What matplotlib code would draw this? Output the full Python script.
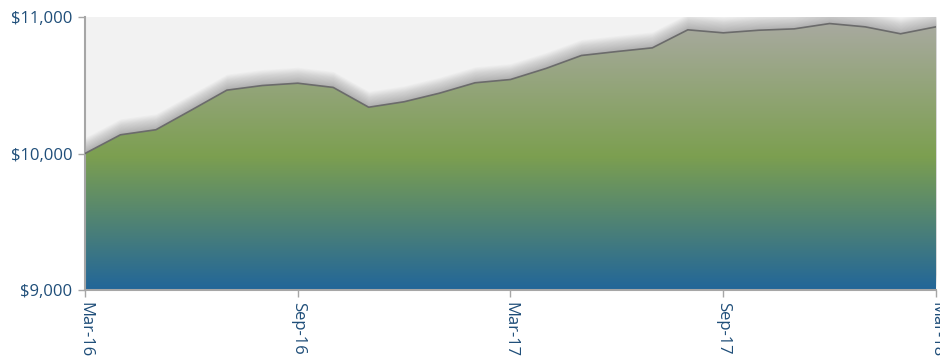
import matplotlib
matplotlib.use("Agg")
import matplotlib.pyplot as plt
import matplotlib.transforms as mtransforms
import numpy as np
from matplotlib.colors import LinearSegmentedColormap

# Monthly portfolio value, Mar-16 .. Mar-18
months = ["Mar-16", "Apr-16", "May-16", "Jun-16", "Jul-16", "Aug-16", "Sep-16",
          "Oct-16", "Nov-16", "Dec-16", "Jan-17", "Feb-17", "Mar-17", "Apr-17",
          "May-17", "Jun-17", "Jul-17", "Aug-17", "Sep-17", "Oct-17", "Nov-17",
          "Dec-17", "Jan-18", "Feb-18", "Mar-18"]
values = [10000, 10137, 10174, 10318, 10464, 10498, 10515, 10484, 10339, 10379,
          10442, 10518, 10542, 10623, 10718, 10747, 10774, 10906, 10884, 10903,
          10913, 10952, 10928, 10877, 10928]
tick_labels = ["Mar-16", "Sep-16", "Mar-17", "Sep-17", "Mar-18"]
y_ticks = [9000, 10000, 11000]

label_color = "#1f4e79"
plt.rcParams["font.family"] = ["Open Sans", "DejaVu Sans"]

fig = plt.figure(figsize=(9.4, 3.57), dpi=100)
ax = fig.add_axes([85 / 940, 67 / 357, 851 / 940, 273 / 357])
ax.set_facecolor("#f2f2f2")

x = np.arange(len(values))
ax.set_xlim(0, len(values) - 1)
ax.set_ylim(9000, 11000)

# soft shadow: faint copies of the area nudged upward a few pixels each
for dy in np.linspace(1, 16, 20):
    off = mtransforms.offset_copy(ax.transData, fig=fig, x=0, y=dy * 0.72,
                                  units="points")
    ax.fill_between(x, 9000, values, color="#555555", alpha=0.022, lw=0,
                    transform=off, zorder=1)

# gradient fill under the curve: blue -> green -> grey
cmap = LinearSegmentedColormap.from_list(
    "fill", [(0.0, "#226699"), (0.49, "#7c9f50"), (1.0, "#aaaaa3")])
grad = np.linspace(0, 1, 256).reshape(-1, 1)
img = ax.imshow(grad, cmap=cmap, aspect="auto", origin="lower",
                extent=(0, len(values) - 1, 9000, 11000), zorder=2)
poly = ax.fill_between(x, 9000, values, facecolor="none", edgecolor="none")
img.set_clip_path(poly.get_paths()[0], ax.transData)

ax.plot(x, values, color="#6b6b6b", lw=1.2, zorder=3)

ax.set_yticks(y_ticks)
ax.set_yticklabels([f"${v:,}" for v in y_ticks], fontsize=12)
ax.set_xticks([months.index(m) for m in tick_labels])
ax.set_xticklabels(tick_labels, rotation=270, fontsize=12)

for side in ["top", "right"]:
    ax.spines[side].set_visible(False)
for side in ["left", "bottom"]:
    ax.spines[side].set_color("#a6a6a6")
    ax.spines[side].set_linewidth(1.5)
ax.tick_params(axis="both", colors="#a6a6a6", length=5, width=1, pad=4)
for lbl in ax.get_xticklabels() + ax.get_yticklabels():
    lbl.set_color(label_color)

fig.savefig("out.png", dpi=100, facecolor="white")
